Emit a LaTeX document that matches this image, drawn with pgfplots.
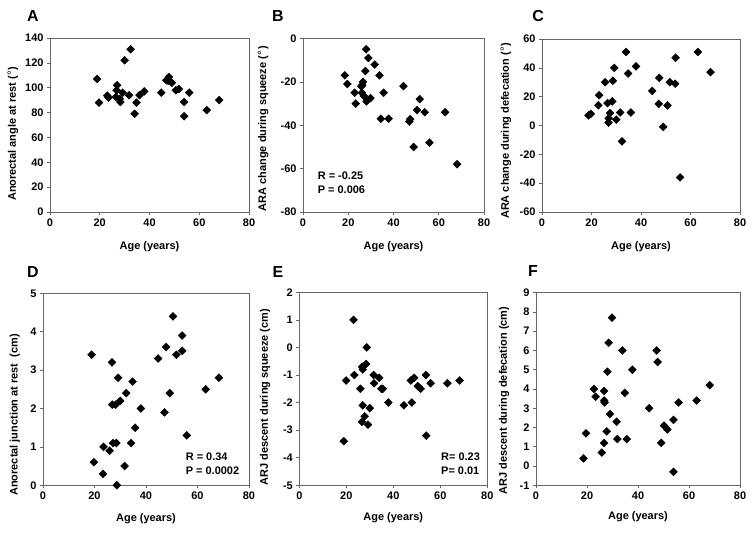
\documentclass[border=0pt]{standalone}
\usepackage{pgfplots}
\pgfplotsset{compat=1.18}
\usepackage{fontspec}
\setmainfont{Liberation Sans}
\newcommand{\degsym}{(\kern0.05em{\fontsize{12}{12}\selectfont\mdseries °}\kern0.05em)}
\pgfplotsset{
  panel/.style={
    scale only axis,
    anchor=south west,
    xmin=0, xmax=80, xtick={0,20,...,80},
    tick align=outside, tick pos=left,
    major tick length=3bp,
    axis line style={black!60, line width=0.7pt},
    every tick/.style={black!60, line width=0.6pt},
    tick label style={font=\fontsize{11}{13}\selectfont\bfseries},
    label style={font=\fontsize{11}{13}\selectfont\bfseries},
    /pgf/number format/assume math mode=true,
    xlabel={Age (years)},
    clip=false,
  },
  dots/.style={only marks, mark=square*, mark size=2.8bp,
    mark options={rotate=45, fill=black, draw=black}},
}
\begin{document}
\begin{tikzpicture}[x=1bp,y=1bp]
\useasboundingbox (0,0) rectangle (754,534);
% A
\begin{axis}[panel, at={(50bp,322bp)}, width=199bp, height=174bp,
  ymin=0, ymax=140, ytick={0,20,...,140},
  ylabel={Anorectal angle at rest \degsym},
  xlabel style={at={(axis description cs:0.5,-0.201)}, anchor=center},
  ylabel style={at={(axis description cs:-0.186,0.45)}, anchor=center}]
\addplot[dots] coordinates {
(18.9,107) (19.7,88) (23,93.6) (23.5,92) (27,102) (26.8,98) (26.5,92.5)
(28,91) (28.3,88.5) (29.2,96) (30,122) (32.4,131) (31.8,94) (34,79)
(34.8,88) (36,94) (37.9,97) (44.7,96) (47.8,108.6) (47.5,105.6) (49,104)
(46.8,106) (50.6,98) (51.8,99) (53.9,88.5) (53.9,77) (56,96) (63,82) (68,90)};
\end{axis}
% B
\begin{axis}[panel, at={(303bp,322bp)}, width=181bp, height=173.5bp,
  ymin=-80, ymax=0, ytick={-80,-60,...,0},
  ylabel={ARA change during squeeze \degsym},
  xlabel style={at={(axis description cs:0.5,-0.202)}, anchor=center},
  ylabel style={at={(axis description cs:-0.221,0.48)}, anchor=center}]
\addplot[dots] coordinates {
(18.5,-17) (19.6,-21) (22.8,-25) (23.3,-30) (25.8,-22) (26.5,-20) (26.2,-21.5)
(26.0,-25) (26.9,-26.5) (27.6,-15) (27.9,-5) (28.9,-9) (28.1,-29) (29.8,-27.5)
(31.7,-12) (33.8,-17) (35.6,-25) (34.4,-37) (37.8,-37) (44.4,-22) (47.4,-37.2)
(47,-38.3) (48.9,-50) (50.4,-33) (51.6,-28) (53.8,-34) (55.9,-48) (62.8,-34) (68.1,-58)};
\node[anchor=west, align=left, font=\fontsize{11}{14}\selectfont\bfseries] at (axis cs:5,-66.3) {R = -0.25\\P = 0.006};
\end{axis}
% C
\begin{axis}[panel, at={(542bp,322bp)}, width=198bp, height=173bp,
  ymin=-60, ymax=60, ytick={-60,-40,...,60},
  ylabel={ARA change during defecation \degsym},
  xlabel style={at={(axis description cs:0.5,-0.2)}, anchor=center},
  ylabel style={at={(axis description cs:-0.182,0.47)}, anchor=center}]
\addplot[dots] coordinates {
(18.8,7) (19.7,8) (23.1,21) (22.8,14) (25.5,30) (26.5,15.5) (26.9,5) (26.9,2)
(27.5,8.6) (28.4,16.7) (28.6,31) (29.2,40) (30,4) (31.6,9) (32.3,-11) (34,51)
(34.8,36) (35.9,9) (38,41) (44.5,24) (47.4,33) (47.2,15) (49,-1) (50.7,14)
(51.7,30) (53.8,29) (54,47) (55.8,-36) (63,51) (68.1,37)};
\end{axis}
% D
\begin{axis}[panel, at={(43bp,48.7bp)}, width=206bp, height=192bp,
  ymin=0, ymax=5, ytick={0,1,...,5},
  ylabel={Anorectal junction at rest~ (cm)},
  xlabel style={at={(axis description cs:0.5,-0.172)}, anchor=center},
  ylabel style={at={(axis description cs:-0.137,0.366)}, anchor=center}]
\addplot[dots] coordinates {
(18.9,3.4) (19.8,0.6) (23.3,0.3) (23.5,1.0) (25.9,0.9) (26.8,3.2) (26.9,2.1)
(27.2,1.1) (28.2,2.1) (28.5,1.1) (28.7,0.0) (29.2,2.8) (30,2.2) (31.7,0.5)
(32.3,2.4) (34.2,1.1) (34.8,2.7) (35.8,1.5) (38,2.0) (44.7,3.3) (47.2,1.9)
(47.8,3.6) (49.2,2.4) (50.5,4.4) (51.8,3.4) (54,3.9) (54.1,3.5) (55.8,1.3)
(63.2,2.5) (68.3,2.8)};
\node[anchor=west, align=left, font=\fontsize{11}{14}\selectfont\bfseries] at (axis cs:54.1,0.55) {R = 0.34\\P = 0.0002};
\end{axis}
% E
\begin{axis}[panel, at={(299.3bp,48.7bp)}, width=188bp, height=193bp,
  ymin=-5, ymax=2, ytick={-5,-4,...,2},
  ylabel={ARJ descent during squeeze (cm)},
  xlabel style={at={(axis description cs:0.5,-0.166)}, anchor=center},
  ylabel style={at={(axis description cs:-0.182,0.457)}, anchor=center}]
\addplot[dots] coordinates {
(18.9,-3.4) (19.9,-1.2) (23.1,1.0) (23.4,-1.0) (26,-1.5) (26.7,-0.7) (27,-0.8)
(27,-2.1) (26.7,-2.7) (27.8,-2.5) (28.4,-0.6) (28.7,0) (29.2,-2.8) (30,-2.2)
(31.6,-1.0) (31.8,-1.3) (34,-1.1) (34.9,-1.5) (35.5,-1.5) (37.9,-2.0) (44.5,-2.1)
(47.5,-1.2) (47.9,-2.0) (48.9,-1.1) (50.4,-1.4) (51.6,-1.5) (53.9,-1.0) (54,-3.2)
(55.9,-1.3) (63,-1.3) (68.2,-1.2)};
\node[anchor=west, align=left, font=\fontsize{11}{14}\selectfont\bfseries] at (axis cs:58.9,-4.22) {R= 0.23\\P= 0.01};
\end{axis}
% F
\begin{axis}[panel, at={(536bp,48.7bp)}, width=204bp, height=192.6bp,
  ymin=-1, ymax=9, ytick={-1,0,...,9},
  ylabel={ARJ descent during defecation (cm)},
  xlabel style={at={(axis description cs:0.5,-0.165)}, anchor=center},
  ylabel style={at={(axis description cs:-0.157,0.44)}, anchor=center}]
\addplot[dots] coordinates {
(18.6,0.4) (19.6,1.7) (22.7,4.0) (23.4,3.6) (25.8,0.7) (26.7,1.2) (26.7,3.9)
(26.7,3.4) (26.9,3.3) (27.7,1.8) (28,4.9) (28.5,6.4) (29,2.7) (29.8,7.7)
(31.6,2.3) (31.9,1.4) (33.9,6.0) (34.8,3.8) (35.6,1.4) (37.8,5.0) (44.4,3.0)
(47.3,6.0) (47.7,5.4) (49.1,1.2) (50.2,2.1) (51.5,1.9) (53.9,2.4) (53.9,-0.3)
(55.9,3.3) (63,3.4) (68.1,4.2)};
\end{axis}
% panel letters
\begin{scope}[every node/.style={font=\fontsize{16}{18}\selectfont\bfseries}]
\node at (33,518) {A};
\node at (278,518) {B};
\node at (538,518) {C};
\node at (33,262) {D};
\node at (278,262) {E};
\node at (533,263) {F};
\end{scope}
\end{tikzpicture}
\end{document}
